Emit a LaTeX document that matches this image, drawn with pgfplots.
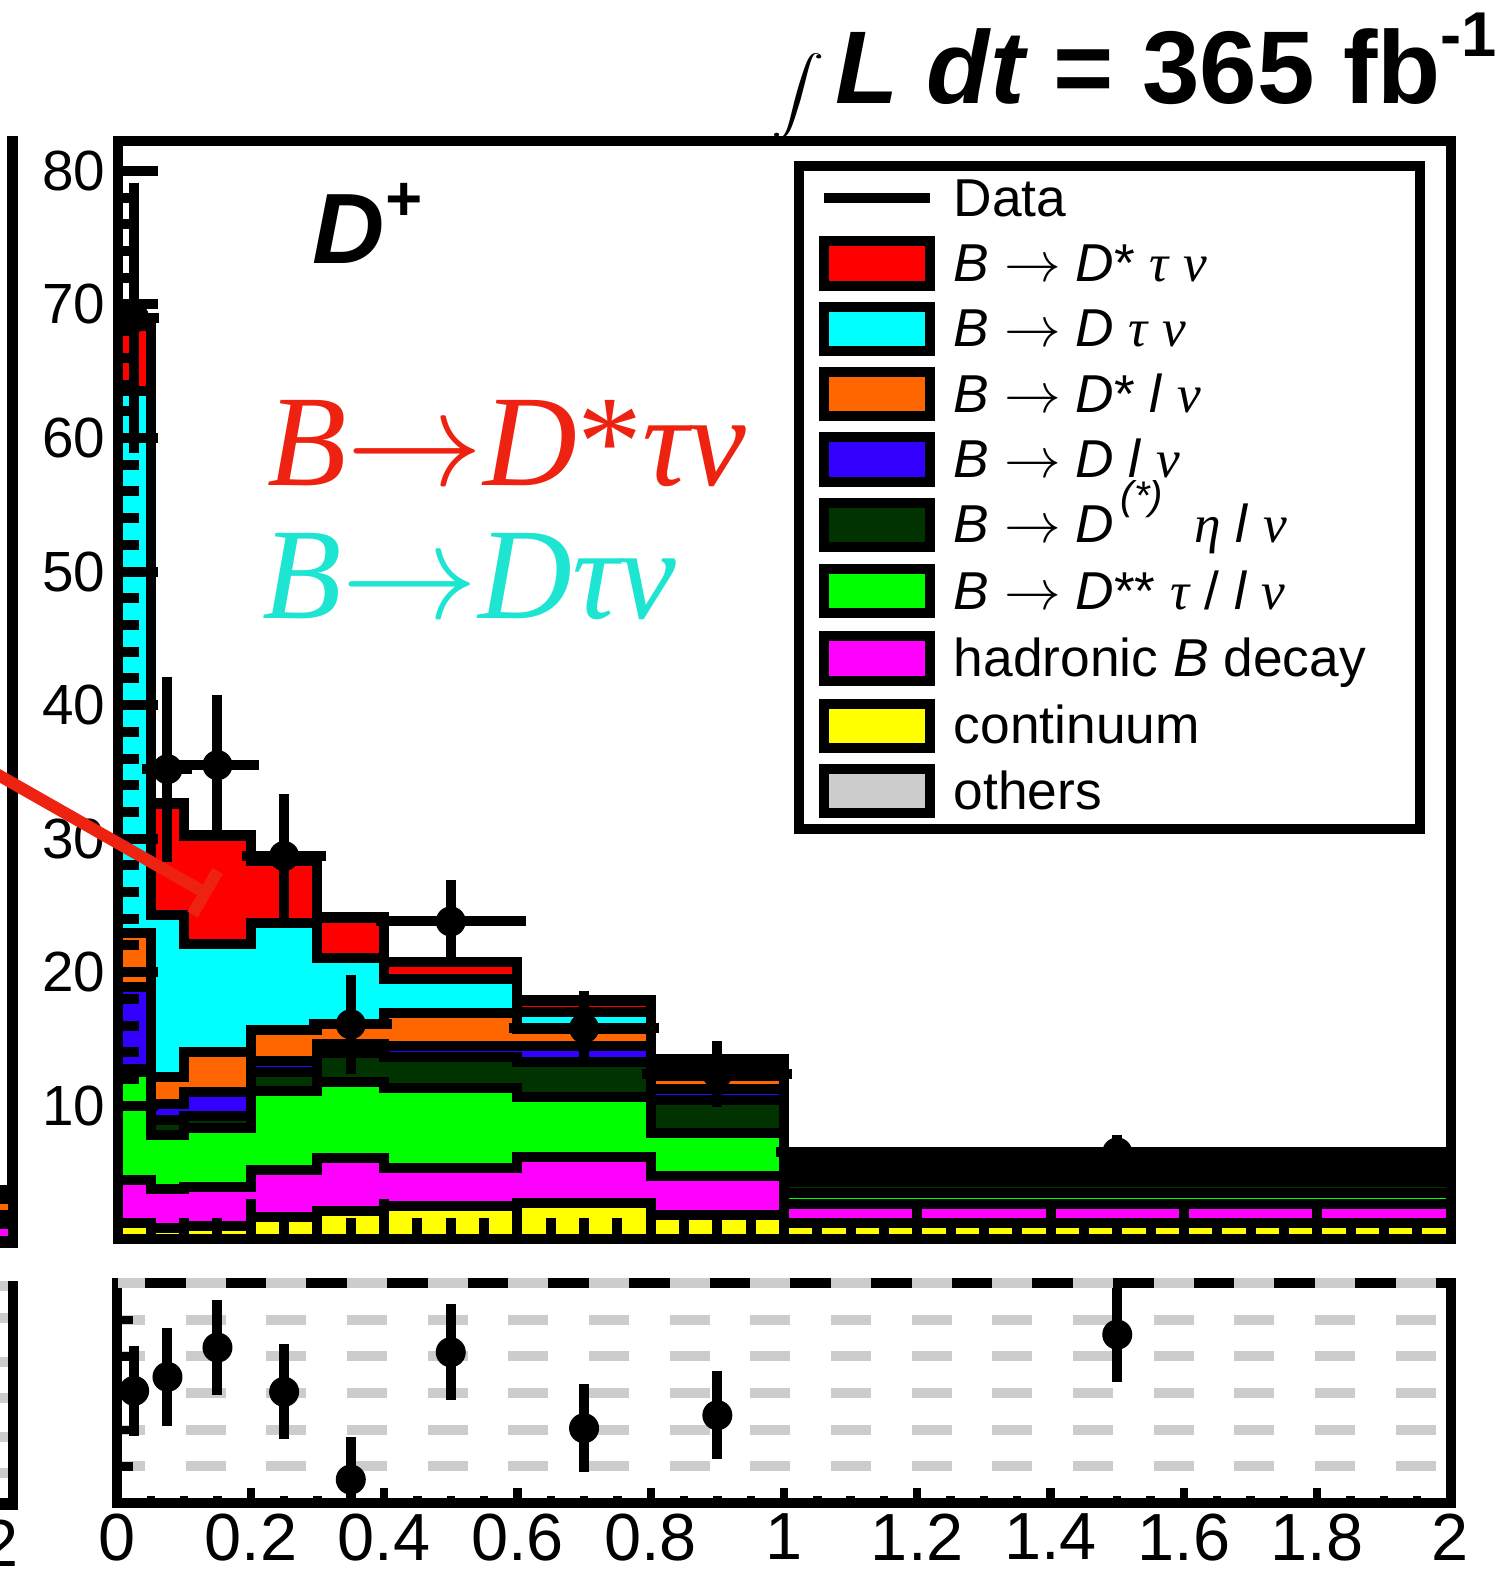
\documentclass[border=0pt]{standalone}
\usepackage{fontspec}
\setmainfont{Liberation Sans}
\newfontfamily\grk{Liberation Serif}
\usepackage{pgfplots}
\pgfplotsset{compat=1.18}
\usepackage{pgfplotstable}

\definecolor{cDstartau}{RGB}{255,0,0}
\definecolor{cDtau}{RGB}{0,255,255}
\definecolor{cDstarl}{RGB}{255,102,0}
\definecolor{cDl}{RGB}{51,0,255}
\definecolor{cEta}{RGB}{0,51,0}
\definecolor{cDss}{RGB}{0,255,0}
\definecolor{cHad}{RGB}{255,0,255}
\definecolor{cCont}{RGB}{255,255,0}
\definecolor{cOth}{RGB}{204,204,204}
\definecolor{lblred}{RGB}{238,34,17}
\definecolor{lblcyan}{RGB}{30,228,210}
\definecolor{gridgray}{RGB}{204,204,204}

\newcommand{\gr}[1]{{\grk\itshape #1}}
\newcommand{\arr}[1]{\scalebox{#1}{\fontsize{10}{10}\selectfont$\rightarrow$}}

% cumulative stacked heights per bin (left bin edges, last row closes the range)
\pgfplotstableread{
x    cont  had   dss   eta   dl    dsl   dtau  dstau oth
0.00 1.20  4.45  12.50 12.75 18.90 22.90 63.50 68.40 68.50
0.05 0.87  3.77  7.81  8.93  10.10 12.17 24.28 32.60 32.70
0.10 1.02  3.94  8.31  9.26  11.00 14.05 22.10 30.20 30.30
0.20 1.65  5.19  11.10 12.55 13.37 15.67 23.66 28.30 28.40
0.30 2.14  6.06  11.80 13.93 14.60 16.10 21.04 24.03 24.10
0.40 2.49  5.36  11.35 13.63 14.50 16.92 19.49 20.74 20.80
0.60 2.74  6.19  10.68 13.25 14.47 15.75 17.00 17.87 17.92
0.80 1.82  4.76  7.98  10.43 11.23 12.23 12.80 13.18 13.48
1.00 1.20  2.65  3.50  4.30  4.60  5.00  5.30  5.60  5.75
2.00 1.20  2.65  3.50  4.30  4.60  5.00  5.30  5.60  5.75
}\stacktab

% data points
\pgfplotstableread{
x     y     ex    ey
0.025 69.0  0.025 9.5
0.075 35.2  0.025 6.3
0.15  35.5  0.05  4.6
0.25  28.7  0.05  4.0
0.35  16.1  0.05  3.1
0.5   23.8  0.1   2.45
0.7   15.8  0.1   2.2
0.9   12.4  0.1   1.85
1.5   6.5   0.5   0.7
}\datatab

% data / expectation
\pgfplotstableread{
x     r      er
0.025 1.009  0.150
0.075 1.066  0.167
0.15  1.186  0.160
0.25  1.005  0.160
0.35  0.646  0.140
0.5   1.167  0.163
0.7   0.856  0.145
0.9   0.909  0.145
1.5   1.239  0.160
}\ratiotab

\begin{document}
\begin{tikzpicture}
\begin{axis}[
  at={(35.25pt,-42.45pt)}, anchor=north west,
  scale only axis, width=399.9pt, height=329.34pt,
  xmin=0, xmax=2, ymin=0, ymax=82.2,
  axis on top,
  tick align=inside,
  xtick={0,0.2,0.4,0.6,0.8,1,1.2,1.4,1.6,1.8,2},
  xticklabels={{},{},{},{},{},{},{},{},{},{},{}},
  minor x tick num=3,
  ytick={10,20,30,40,50,60,70,80},
  yticklabels={10,20,30,40,50,60,70,80},
  minor y tick num=4,
  xtick pos=left, ytick pos=left,
  major tick length=12pt, minor tick length=6.3pt,
  every tick/.append style={black, line width=3pt},
  axis line style={line width=3pt},
  yticklabel style={font=\fontsize{17}{17}\selectfont, inner xsep=3.5pt},
]
\addplot[const plot, draw=black, line width=3pt, fill=cOth]      table[x=x,y=oth]{\stacktab} \closedcycle;
\addplot[const plot, draw=black, line width=3pt, fill=cDstartau] table[x=x,y=dstau]{\stacktab} \closedcycle;
\addplot[const plot, draw=black, line width=3pt, fill=cDtau]     table[x=x,y=dtau]{\stacktab} \closedcycle;
\addplot[const plot, draw=black, line width=3pt, fill=cDstarl]   table[x=x,y=dsl]{\stacktab} \closedcycle;
\addplot[const plot, draw=black, line width=3pt, fill=cDl]       table[x=x,y=dl]{\stacktab} \closedcycle;
\addplot[const plot, draw=black, line width=3pt, fill=cEta]      table[x=x,y=eta]{\stacktab} \closedcycle;
\addplot[const plot, draw=black, line width=3pt, fill=cDss]      table[x=x,y=dss]{\stacktab} \closedcycle;
\addplot[const plot, draw=black, line width=3pt, fill=cHad]      table[x=x,y=had]{\stacktab} \closedcycle;
\addplot[const plot, draw=black, line width=3pt, fill=cCont]     table[x=x,y=cont]{\stacktab} \closedcycle;
\addplot[black, only marks, mark=*, mark size=4.3pt,
  error bars/.cd, x dir=both, x explicit, y dir=both, y explicit,
  error bar style={line width=3pt},
  error mark options={black, line width=3pt, mark size=2.5pt}]
  table[x=x, y=y, x error=ex, y error=ey]{\datatab};
\end{axis}

\begin{axis}[
  at={(35.25pt,-384.9pt)}, anchor=north west,
  scale only axis, width=399.9pt, height=66pt,
  xmin=0, xmax=2, ymin=0.55, ymax=1.45,
  tick align=inside,
  xtick={0,0.2,0.4,0.6,0.8,1,1.2,1.4,1.6,1.8,2},
  xticklabels={0,0.2,0.4,0.6,0.8,1,1.2,1.4,1.6,1.8,2},
  minor x tick num=3,
  ytick={0.7,0.85,1,1.15,1.3,1.45},
  yticklabels={{},{},{},{},{},{}},
  ymajorgrids,
  major grid style={gridgray, line width=3pt, dash pattern=on 12pt off 12.2pt, dash phase=3.8pt},
  xtick pos=left, ytick pos=left,
  major tick length=4.5pt, minor tick length=2pt,
  every tick/.append style={black, line width=2.5pt},
  axis line style={line width=3pt},
  xticklabel style={font=\fontsize{20}{20}\selectfont, inner ysep=3pt},
]
\addplot[black, only marks, mark=*, mark size=4.3pt,
  error bars/.cd, y dir=both, y explicit,
  error bar style={line width=3pt},
  error mark options={black, line width=3pt, mark size=2.5pt}]
  table[x=x, y=r, y error=er]{\ratiotab};
\end{axis}

\draw[gridgray, line width=3pt, dash pattern=on 12pt off 12.2pt, dash phase=3.8pt]
  (35.25pt,-384.9pt) -- (435.15pt,-384.9pt);

\begin{scope}[x=0.3016pt,y=-0.3016pt]
  % edge of the neighbouring panel
  \fill[black] (7,135) rectangle (18,1241);
  \fill[black] (0,1179) rectangle (18,1241);
  \fill[cDstarl] (0,1198) rectangle (8,1204);
  \fill[cHad] (0,1222) rectangle (8,1229);
  \fill[black] (8,1274) rectangle (18,1502);
  \fill[black] (0,1490) rectangle (18,1502);
  \foreach \yy in {1279,1311,1355,1391,1429,1465}
    \fill[gridgray] (0,\yy-5) rectangle (8,\yy+5);
  \node[anchor=base east, inner sep=0] at (19,1558) {\fontsize{20}{20}\selectfont 2};

  % arrow pointing at the signal component
  \draw[lblred, line width=3.6pt] (-5,769) -- (204,888);
  \draw[lblred, line width=3.6pt] (191.6,909.7) -- (216.4,866.3);

  % labels
  \node[anchor=base west, inner sep=0] at (310,262)
    {\fontsize{30}{30}\selectfont\bfseries\itshape D\raisebox{13pt}{\fontsize{19}{19}\selectfont +}};
  \node[anchor=base west, inner sep=0, text=lblred] at (265,483)
    {\fontsize{39}{39}\selectfont\grk\textit{B}\arr{4.1}\textit{D}{\upshape *}\textit{τν}};
  \node[anchor=base west, inner sep=0, text=lblcyan] at (260,615)
    {\fontsize{39}{39}\selectfont\grk\textit{B}\arr{4.1}\textit{D}\textit{τν}};

  % luminosity
  \node[anchor=north west, inner sep=0, xscale=1.6, yscale=1.15] at (766,52) {$\displaystyle\int$};
  \node[anchor=base west, inner sep=0] at (830,103)
    {\fontsize{31}{31}\selectfont\bfseries\itshape L dt \upshape = 365 fb\raisebox{14pt}{\fontsize{19}{19}\selectfont -1}};

  % legend
  \draw[line width=3pt, fill=white] (795,165) rectangle (1412,825);
  \draw[line width=3pt] (820,197) -- (925,197);
  \node[anchor=base west, inner sep=0] at (948,215) {\fontsize{16}{16}\selectfont Data};
  \foreach \c/\col in {262/cDstartau,327/cDtau,392/cDstarl,457/cDl,522/cEta,588/cDss,655/cHad,722/cCont,787/cOth}
    \draw[line width=3pt, fill=\col] (820,\c-22) rectangle (925,\c+22);
  \begingroup
  \fontsize{16}{16}\selectfont
  \node[anchor=base west, inner sep=0] at (948,280) {\textit{B} \arr{1.7} \textit{D}* \gr{τ} \gr{ν}};
  \node[anchor=base west, inner sep=0] at (948,345) {\textit{B} \arr{1.7} \textit{D} \gr{τ} \gr{ν}};
  \node[anchor=base west, inner sep=0] at (948,410) {\textit{B} \arr{1.7} \textit{D}* \textit{l} \gr{ν}};
  \node[anchor=base west, inner sep=0] at (948,475) {\textit{B} \arr{1.7} \textit{D} \textit{l} \gr{ν}};
  \node[anchor=base west, inner sep=0] at (948,540) {\textit{B} \arr{1.7} \textit{D}\hspace{2pt}\raisebox{10pt}{\fontsize{12}{12}\selectfont\textit{(*)}}\hspace{5pt} \gr{η} \textit{l} \gr{ν}};
  \node[anchor=base west, inner sep=0] at (948,606) {\textit{B} \arr{1.7} \textit{D}** \gr{τ} / \textit{l} \gr{ν}};
  \node[anchor=base west, inner sep=0] at (948,673) {hadronic \textit{B} decay};
  \node[anchor=base west, inner sep=0] at (948,740) {continuum};
  \node[anchor=base west, inner sep=0] at (948,805) {others};
  \endgroup
\end{scope}

\pgfresetboundingbox
\path[use as bounding box] (0,0) rectangle (452.1pt,-472.8pt);
\end{tikzpicture}
\end{document}
